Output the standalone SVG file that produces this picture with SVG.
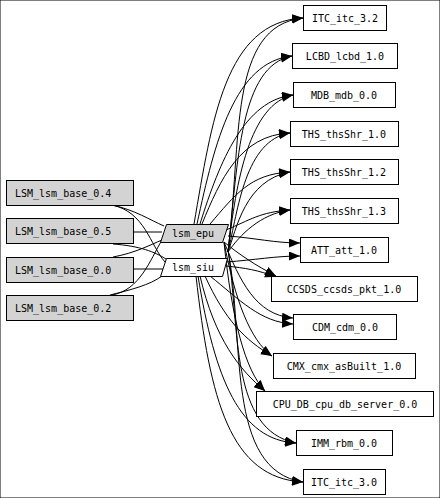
<svg xmlns="http://www.w3.org/2000/svg" width="440" height="498" viewBox="0 0 440 498">
<defs>
<marker id="ah" markerUnits="userSpaceOnUse" markerWidth="12" markerHeight="10" refX="11" refY="4.5" orient="auto">
<path d="M0,0 L11,4.5 L0,9 z" fill="#000"/>
</marker>
<style>
rect,polygon{stroke:#000;stroke-width:1}
.g{fill:#d3d3d3}
.w{fill:#fff}
text{font-family:"DejaVu Sans Mono","Liberation Mono",monospace;font-size:10px;fill:#000}
.c{text-anchor:middle}
#edges path{fill:none;stroke:#000;stroke-width:1}
#edges .a{marker-end:url(#ah)}
</style>
</defs>
<rect width="440" height="498" fill="#fff"/>
<g id="edges">
<path d="M112,205 C135,210 150,220 164,226"/>
<path d="M112,205 C145,212 150,245 165,262"/>
<path d="M133,232 L162,232"/>
<path d="M113,244 C140,246 155,252 166,259"/>
<path d="M113,257 C135,253 150,245 162,240"/>
<path d="M133,269 L163,269"/>
<path d="M112,295 C140,290 150,260 162,240"/>
<path d="M110,295 C130,290 150,285 162,276"/>
<path class="a" d="M194,224 C212,120 225,22 303,18"/>
<path class="a" d="M228,252 C242,140 228,26 303,18"/>
<path class="a" d="M197,224 C215,140 235,62 292,56"/>
<path class="a" d="M228,252 C238,160 240,66 292,56"/>
<path class="a" d="M200,224 C220,160 245,100 293,95"/>
<path class="a" d="M228,252 C236,180 250,104 293,95"/>
<path class="a" d="M202,224 C220,180 240,135 290,133"/>
<path class="a" d="M228,252 C238,210 245,140 290,133"/>
<path class="a" d="M210,224 C235,195 250,174 290,172"/>
<path class="a" d="M228,252 C236,230 245,180 290,172"/>
<path class="a" d="M226,230 C250,220 260,212 290,210"/>
<path class="a" d="M228,252 C240,235 260,214 290,210"/>
<path class="a" d="M228,236 C255,238 275,243 300,243"/>
<path class="a" d="M226,262 C255,260 275,256 300,256"/>
<path class="a" d="M224,242 C240,255 255,265 276,276"/>
<path class="a" d="M226,266 C245,268 258,270 276,277"/>
<path class="a" d="M224,242 C240,280 255,315 293,318"/>
<path class="a" d="M210,276 C240,300 260,322 293,324"/>
<path class="a" d="M224,242 C235,300 250,340 272,356"/>
<path class="a" d="M205,276 C225,320 245,340 272,356"/>
<path class="a" d="M224,242 C232,320 245,370 265,391"/>
<path class="a" d="M200,276 C215,340 240,370 265,391"/>
<path class="a" d="M228,250 C240,330 230,430 296,443"/>
<path class="a" d="M198,276 C215,380 240,440 296,443"/>
<path class="a" d="M228,250 C245,340 225,470 303,482"/>
<path class="a" d="M196,276 C210,400 230,478 303,482"/>
</g>
<g id="LSM_lsm_base_0.4"><rect class="g" x="6.5" y="180.5" width="127" height="25"/><text x="15" y="196.5">LSM_lsm_base_0.4</text></g>
<g id="LSM_lsm_base_0.5"><rect class="g" x="6.5" y="218.5" width="127" height="25"/><text x="15" y="234.5">LSM_lsm_base_0.5</text></g>
<g id="LSM_lsm_base_0.0"><rect class="g" x="6.5" y="257.5" width="127" height="25"/><text x="15" y="273.5">LSM_lsm_base_0.0</text></g>
<g id="LSM_lsm_base_0.2"><rect class="g" x="6.5" y="295.5" width="127" height="25"/><text x="15" y="311.5">LSM_lsm_base_0.2</text></g>
<g id="lsm_epu"><polygon class="g" points="166.5,224.5 228.5,224.5 222.5,242.5 160.5,242.5"/><text class="c" x="193" y="237">lsm_epu</text></g>
<g id="lsm_siu"><polygon class="w" points="166.5,258.5 227.5,258.5 222.5,276.5 160.5,276.5"/><text class="c" x="193" y="271">lsm_siu</text></g>
<g id="ITC_itc_3.2"><rect class="w" x="303.5" y="5.5" width="83" height="25"/><text class="c" x="345" y="21.5">ITC_itc_3.2</text></g>
<g id="LCBD_lcbd_1.0"><rect class="w" x="292.5" y="43.5" width="105" height="25"/><text class="c" x="345" y="59.5">LCBD_lcbd_1.0</text></g>
<g id="MDB_mdb_0.0"><rect class="w" x="293.5" y="82.5" width="102" height="25"/><text class="c" x="344" y="98.5">MDB_mdb_0.0</text></g>
<g id="THS_thsShr_1.0"><rect class="w" x="290.5" y="121.5" width="108" height="25"/><text class="c" x="344" y="137.5">THS_thsShr_1.0</text></g>
<g id="THS_thsShr_1.2"><rect class="w" x="290.5" y="159.5" width="108" height="25"/><text class="c" x="344" y="175.5">THS_thsShr_1.2</text></g>
<g id="THS_thsShr_1.3"><rect class="w" x="290.5" y="198.5" width="108" height="25"/><text class="c" x="344" y="214.5">THS_thsShr_1.3</text></g>
<g id="ATT_att_1.0"><rect class="w" x="300.5" y="237.5" width="88" height="25"/><text class="c" x="344" y="253.5">ATT_att_1.0</text></g>
<g id="CCSDS_ccsds_pkt_1.0"><rect class="w" x="271.5" y="276.5" width="146" height="25"/><text class="c" x="344" y="292.5">CCSDS_ccsds_pkt_1.0</text></g>
<g id="CDM_cdm_0.0"><rect class="w" x="293.5" y="314.5" width="103" height="25"/><text class="c" x="345" y="330.5">CDM_cdm_0.0</text></g>
<g id="CMX_cmx_asBuilt_1.0"><rect class="w" x="273.5" y="353.5" width="142" height="25"/><text class="c" x="344" y="369.5">CMX_cmx_asBuilt_1.0</text></g>
<g id="CPU_DB_cpu_db_server_0.0"><rect class="w" x="256.5" y="391.5" width="177" height="25"/><text class="c" x="345" y="407.5">CPU_DB_cpu_db_server_0.0</text></g>
<g id="IMM_rbm_0.0"><rect class="w" x="296.5" y="430.5" width="96" height="25"/><text class="c" x="344" y="446.5">IMM_rbm_0.0</text></g>
<g id="ITC_itc_3.0"><rect class="w" x="303.5" y="469.5" width="82" height="25"/><text class="c" x="344" y="485.5">ITC_itc_3.0</text></g>
</svg>
